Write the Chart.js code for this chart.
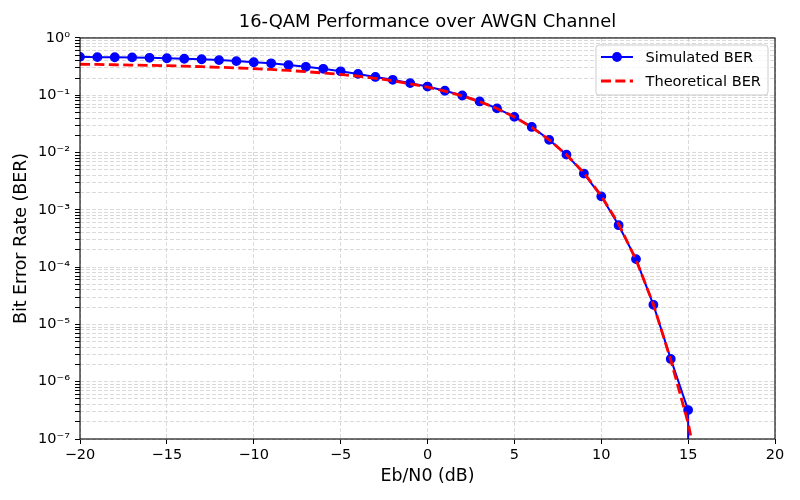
<!DOCTYPE html>
<html>
<head>
<meta charset="utf-8">
<title>16-QAM Performance over AWGN Channel</title>
<script src="https://cdn.jsdelivr.net/npm/chart.js@4.4.1/dist/chart.umd.min.js"></script>
<style>
    html, body { margin: 0; padding: 0; background: #ffffff; }
    canvas { display: block; }
</style>
</head>
<body>
<canvas id="berChart" width="800" height="500"></canvas>
<script>
// Eb/N0 sweep in dB
const ebn0Db = [-20, -19, -18, -17, -16, -15, -14, -13, -12, -11,
                -10, -9, -8, -7, -6, -5, -4, -3, -2, -1,
                0, 1, 2, 3, 4, 5, 6, 7, 8, 9,
                10, 11, 12, 13, 14, 15, 16, 17, 18, 19, 20];

// measured BER, 0 = no errors counted
const simulatedBer = [0.468, 0.463, 0.461, 0.458, 0.451, 0.443, 0.434, 0.425, 0.411, 0.395,
                      0.377, 0.361, 0.337, 0.314, 0.290, 0.262, 0.236, 0.209, 0.186, 0.163,
                      0.142, 0.120, 0.099, 0.078, 0.059, 0.042, 0.028, 0.0167, 0.0092, 0.0043,
                      0.00172, 0.00054, 0.000138, 2.2e-5, 2.5e-6, 3.2e-7, 0, 0, 0, 0, 0];

// theory curve, -20 dB .. 16 dB
const theoreticalBer = [0.348, 0.345, 0.341, 0.337, 0.333, 0.328, 0.322, 0.315, 0.308, 0.300,
                        0.291, 0.282, 0.271, 0.258, 0.245, 0.231, 0.215, 0.198, 0.179, 0.159,
                        0.139, 0.118, 0.0976, 0.0776, 0.0587, 0.0418, 0.0276, 0.0167, 0.00915, 0.00443,
                        0.00176, 0.000566, 0.000135, 2.25e-5, 2.4e-6, 1.9e-7, 6.3e-9];

const xTickValues = [-20, -15, -10, -5, 0, 5, 10, 15, 20];
const yDecades = [-7, -6, -5, -4, -3, -2, -1, 0];

// a log axis can't show 0, push it far below the axis like matplotlib's clip does
const LOG_FLOOR = 1e-300;

const FONT = 'DejaVu Sans';
const GRID_COLOR = '#d0d0d0';

const sup = { '-': '\u207B', '0': '\u2070', '1': '\u00B9', '2': '\u00B2', '3': '\u00B3',
              '4': '\u2074', '5': '\u2075', '6': '\u2076', '7': '\u2077', '8': '\u2078', '9': '\u2079' };

function powLabel(exp) {
    return '10' + String(exp).split('').map(c => sup[c]).join('');
}

const simPoints = ebn0Db.map((x, i) => ({ x: x, y: simulatedBer[i] > 0 ? simulatedBer[i] : LOG_FLOOR }));
const theoryPoints = theoreticalBer.map((y, i) => ({ x: ebn0Db[i], y: y }));

// black frame all round + matplotlib-like legend in the upper right
const frameAndLegend = {
    id: 'frameAndLegend',
    afterDraw(chart) {
        const ctx = chart.ctx;
        const a = chart.chartArea;
        ctx.save();
        ctx.setLineDash([]);
        ctx.strokeStyle = '#000000';
        ctx.lineWidth = 1.1;
        ctx.strokeRect(a.left, a.top, a.right - a.left, a.bottom - a.top);

        ctx.font = '14.6px "' + FONT + '"';
        const sets = chart.data.datasets;
        const textW = Math.max(...sets.map(ds => ctx.measureText(ds.label).width));
        const boxW = 5 + 32 + 12.5 + textW + 7;
        const boxH = 50;
        const bx = a.right - 7 - boxW;
        const by = a.top + 7;

        ctx.beginPath();
        ctx.roundRect(bx, by, boxW, boxH, 3);
        ctx.fillStyle = 'rgba(255,255,255,0.8)';
        ctx.fill();
        ctx.strokeStyle = '#cccccc';
        ctx.lineWidth = 1;
        ctx.stroke();

        sets.forEach((ds, i) => {
            const cy = by + 12 + i * 24;
            const x0 = bx + 5;
            ctx.beginPath();
            ctx.setLineDash(ds.borderDash || []);
            ctx.strokeStyle = ds.borderColor;
            ctx.lineWidth = ds.borderWidth;
            ctx.moveTo(x0, cy);
            ctx.lineTo(x0 + 32, cy);
            ctx.stroke();
            ctx.setLineDash([]);
            if (ds.pointRadius > 0) {
                ctx.beginPath();
                ctx.arc(x0 + 16, cy, ds.pointRadius + ds.pointBorderWidth / 2, 0, Math.PI * 2);
                ctx.fillStyle = ds.backgroundColor;
                ctx.fill();
            }
            ctx.fillStyle = '#000000';
            ctx.textAlign = 'left';
            ctx.textBaseline = 'middle';
            ctx.fillText(ds.label, x0 + 32 + 12.5, cy + 1);
        });
        ctx.restore();
    }
};

const ctx = document.getElementById('berChart').getContext('2d');
const berChart = new Chart(ctx, {
    type: 'line',
    data: {
        datasets: [{
            label: 'Simulated BER',
            data: simPoints,
            borderColor: '#0000ff',
            backgroundColor: '#0000ff',
            borderWidth: 2,
            pointRadius: 4.2,
            pointBorderWidth: 1.4,
            pointHoverRadius: 4.2,
            tension: 0,
            order: 1
        }, {
            label: 'Theoretical BER',
            data: theoryPoints,
            borderColor: '#ff0000',
            backgroundColor: '#ff0000',
            borderWidth: 2.8,
            borderDash: [10, 4.4],
            pointRadius: 0,
            tension: 0,
            order: 0
        }]
    },
    options: {
        responsive: false,
        animation: false,
        devicePixelRatio: 1,
        layout: { padding: { left: 0, right: 25, top: 0, bottom: 0 } },
        plugins: {
            legend: { display: false },
            tooltip: { enabled: false },
            title: {
                display: true,
                fullSize: false,
                text: '16-QAM Performance over AWGN Channel',
                color: '#000000',
                font: { family: FONT, size: 17.9, weight: 'normal' },
                padding: { top: 12, bottom: 4.5 }
            }
        },
        scales: {
            x: {
                type: 'linear',
                min: -20,
                max: 20,
                afterBuildTicks: (scale) => {
                    scale.ticks = xTickValues.map(v => ({ value: v }));
                },
                afterFit: (scale) => { scale.height = 61; },
                ticks: {
                    autoSkip: false,
                    maxRotation: 0,
                    padding: 3,
                    color: '#000000',
                    font: { family: FONT, size: 14.5 },
                    callback: (v) => v < 0 ? '\u2212' + Math.abs(v) : String(v)
                },
                grid: {
                    color: GRID_COLOR,
                    lineWidth: 0.8,
                    tickColor: '#000000',
                    tickLength: 5,
                    tickWidth: 1
                },
                border: { display: false, dash: [4, 2] },
                title: {
                    display: true,
                    text: 'Eb/N0 (dB)',
                    color: '#000000',
                    font: { family: FONT, size: 17.4 },
                    padding: { top: 0, bottom: 13 }
                }
            },
            y: {
                type: 'logarithmic',
                min: 1e-7,
                max: 1,
                afterBuildTicks: (scale) => {
                    const ticks = [];
                    yDecades.forEach(d => {
                        const last = d === 0 ? 1 : 9;
                        for (let m = 1; m <= last; m++) {
                            ticks.push({ value: m * Math.pow(10, d) });
                        }
                    });
                    scale.ticks = ticks;
                },
                afterFit: (scale) => { scale.width = 80; },
                ticks: {
                    autoSkip: false,
                    padding: 5,
                    color: '#000000',
                    font: { family: FONT, size: 14.5 },
                    callback: (value) => {
                        const e = Math.floor(Math.log10(value) + 1e-9);
                        const m = Math.round(value / Math.pow(10, e));
                        return m === 1 ? powLabel(e) : '';
                    }
                },
                grid: {
                    color: GRID_COLOR,
                    lineWidth: 0.8,
                    tickColor: '#000000',
                    tickLength: 5,
                    tickWidth: 1
                },
                border: { display: false, dash: [4, 2] },
                title: {
                    display: true,
                    text: 'Bit Error Rate (BER)',
                    color: '#000000',
                    font: { family: FONT, size: 17.4 },
                    padding: { top: 11.5, bottom: 0 }
                }
            }
        }
    },
    plugins: [frameAndLegend]
});
</script>
</body>
</html>
